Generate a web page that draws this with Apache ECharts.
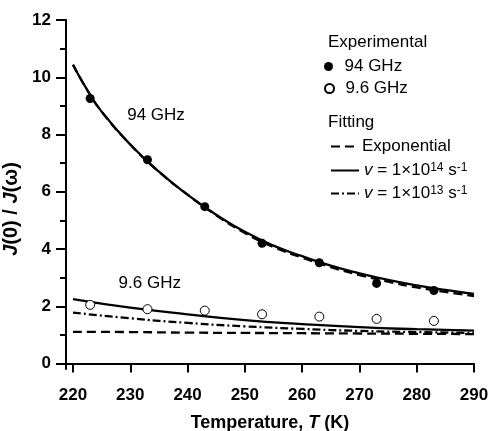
<!DOCTYPE html>
<html><head><meta charset="utf-8">
<script src="https://cdn.jsdelivr.net/npm/echarts@6/dist/echarts.min.js"></script>
<style>html,body{margin:0;padding:0;background:#fff}#c{width:491px;height:431px}</style>
</head><body><div id="c"></div>
<script>
const xTicks = [220, 230, 240, 250, 260, 270, 280, 290];
const yTicks = [0, 2, 4, 6, 8, 10, 12];
const yMinorTicks = [1, 3, 5, 7, 9, 11];
const fitT94 = [220, 222.5, 225, 230, 235, 240, 245, 250, 255, 260, 265, 270, 275, 280, 285, 290];
const fit94Solid = [10.44, 9.55, 8.8, 7.65, 6.7, 5.9, 5.2, 4.6, 4.12, 3.75, 3.42, 3.15, 2.92, 2.73, 2.57, 2.43];
const fit94Exp = [10.44, 9.55, 8.8, 7.65, 6.7, 5.9, 5.18, 4.56, 4.07, 3.7, 3.37, 3.09, 2.86, 2.66, 2.5, 2.36];
const fitT96 = [220, 230, 240, 250, 260, 270, 280, 290];
const fit96Solid = [2.25, 1.95, 1.72, 1.52, 1.38, 1.27, 1.2, 1.15];
const fit96DashDot = [1.78, 1.58, 1.42, 1.3, 1.21, 1.14, 1.1, 1.07];
const fit96Exp = [1.11, 1.1, 1.08, 1.07, 1.06, 1.05, 1.04, 1.03];
const expT = [223, 233, 243, 253, 263, 273, 283];
const exp94 = [9.26, 7.12, 5.48, 4.2, 3.52, 2.8, 2.55];
const exp96 = [2.05, 1.9, 1.85, 1.72, 1.64, 1.56, 1.49];

const FONT = "'Liberation Sans', Arial, sans-serif";
const zip = (xs, ys) => xs.map((x, i) => [x, ys[i]]);
const DASH = [9, 5];
const DASHDOT = [8, 3, 2, 3];

const lineSeries = (name, xs, ys, type) => ({
  type: 'line', name, data: zip(xs, ys), smooth: true, symbol: 'none', showSymbol: false,
  lineStyle: { color: '#000', width: 2.3, type }, itemStyle: { color: '#000' }, z: 2, silent: true
});

const NAME_EXP = 'Exponential';
const NAME_14 = 'v14';
const NAME_13 = 'v13';

const legendBase = {
  orient: 'vertical', itemGap: 0, padding: 0, selectedMode: false,
  textStyle: { color: '#000', fontSize: 17, fontFamily: FONT,
    rich: { i: { fontStyle: 'italic', fontSize: 17, fontFamily: FONT, color: '#000' },
            t: { fontSize: 17, fontFamily: FONT, color: '#000' },
            sup: { fontSize: 12, fontFamily: FONT, color: '#000', verticalAlign: 'top' } } },
  formatter: function (n) {
    if (n === NAME_14) return '{i|v}{t| = 1×10}{sup|14}{t| s}{sup|-1}';
    if (n === NAME_13) return '{i|v}{t| = 1×10}{sup|13}{t| s}{sup|-1}';
    return n;
  }
};
const hideSym = { itemStyle: { opacity: 0, color: 'rgba(0,0,0,0)', borderColor: 'rgba(0,0,0,0)', borderWidth: 0 } };

const option = {
  animation: false,
  backgroundColor: '#fff',
  textStyle: { fontFamily: FONT },
  grid: { left: 66, right: 17, top: 20, bottom: 62, containLabel: false, outerBoundsMode: 'none' },
  xAxis: {
    type: 'value', min: 218.78, max: 290,
    axisLine: { show: true, lineStyle: { color: '#000', width: 2 } },
    axisTick: { show: true, length: 9, lineStyle: { color: '#000', width: 2 }, customValues: xTicks },
    axisLabel: { color: '#000', fontSize: 17, fontWeight: 'bold', fontFamily: FONT, margin: 18, customValues: xTicks },
    splitLine: { show: false },
    name: 'Temperature, {i|T} (K)', nameLocation: 'middle', nameGap: 45,
    nameTextStyle: { color: '#000', fontSize: 18, fontWeight: 'bold', fontFamily: FONT,
      rich: { i: { fontStyle: 'italic', fontWeight: 'bold', fontSize: 18, fontFamily: FONT, color: '#000' } } }
  },
  yAxis: [{
    type: 'value', min: -0.19, max: 12, position: 'left',
    axisLine: { show: true, lineStyle: { color: '#000', width: 2 } },
    axisTick: { show: true, length: 10, lineStyle: { color: '#000', width: 2 }, customValues: yTicks },
    axisLabel: { color: '#000', fontSize: 17, fontWeight: 'bold', fontFamily: FONT, margin: 15, customValues: yTicks },
    splitLine: { show: false },
    name: '{i|J}(0) / {i|J}(ω){g| }', nameLocation: 'middle', nameGap: 42, nameRotate: 90,
    nameTextStyle: { color: '#000', fontSize: 20, fontWeight: 'bold', fontFamily: FONT,
      rich: { i: { fontStyle: 'italic', fontWeight: 'bold', fontSize: 20, fontFamily: FONT, color: '#000' },
              g: { width: 29, fontSize: 20 } } }
  }, {
    type: 'value', min: -0.19, max: 12, position: 'left',
    axisLine: { show: false },
    axisTick: { show: true, length: 6, lineStyle: { color: '#000', width: 2 }, customValues: yMinorTicks },
    axisLabel: { show: false },
    splitLine: { show: false }
  }],
  legend: [
    Object.assign({}, legendBase, { data: ['94 GHz'], left: 324, top: 58, itemWidth: 22, itemHeight: 9 }),
    Object.assign({}, legendBase, { data: ['9.6 GHz'], left: 324, top: 80, itemWidth: 22, itemHeight: 9 }),
    Object.assign({}, legendBase, hideSym, { data: [NAME_EXP], left: 330, top: 138, itemWidth: 26, itemHeight: 10 }),
    Object.assign({}, legendBase, hideSym, { data: [NAME_14], left: 330, top: 162, itemWidth: 28, itemHeight: 10 }),
    Object.assign({}, legendBase, hideSym, { data: [NAME_13], left: 330, top: 185, itemWidth: 28, itemHeight: 10 })
  ],
  graphic: [
    { type: 'text', left: 328, top: 34, style: { text: 'Experimental', fontSize: 17, fontFamily: FONT, fill: '#000' } },
    { type: 'text', left: 328, top: 114, style: { text: 'Fitting', fontSize: 17, fontFamily: FONT, fill: '#000' } }
  ],
  series: [
    lineSeries(NAME_EXP, fitT94, fit94Exp, DASH),
    lineSeries(NAME_EXP, fitT96, fit96Exp, DASH),
    lineSeries(NAME_13, fitT96, fit96DashDot, DASHDOT),
    lineSeries(NAME_14, fitT94, fit94Solid, 'solid'),
    lineSeries(NAME_14, fitT96, fit96Solid, 'solid'),
    {
      type: 'scatter', name: '94 GHz', data: zip(expT, exp94), symbol: 'circle', symbolSize: 9,
      itemStyle: { color: '#000', borderColor: '#000', borderWidth: 0, opacity: 1 }, z: 5, silent: true,
      markPoint: { symbol: 'circle', symbolSize: 0, silent: true,
        label: { show: true, position: 'inside', color: '#000', fontSize: 17, fontFamily: FONT, formatter: '94 GHz' },
        data: [{ coord: [234.5, 8.66] }] }
    },
    {
      type: 'scatter', name: '9.6 GHz', data: zip(expT, exp96), symbol: 'circle', symbolSize: 9,
      itemStyle: { color: '#fff', borderColor: '#000', borderWidth: 1, opacity: 1 }, z: 5, silent: true,
      markPoint: { symbol: 'circle', symbolSize: 0, silent: true,
        label: { show: true, position: 'inside', color: '#000', fontSize: 17, fontFamily: FONT, formatter: '9.6 GHz' },
        data: [{ coord: [233.4, 2.82] }] }
    }
  ]
};
const chart = echarts.init(document.getElementById('c'), null, { renderer: 'canvas' });
chart.setOption(option);
</script></body></html>
